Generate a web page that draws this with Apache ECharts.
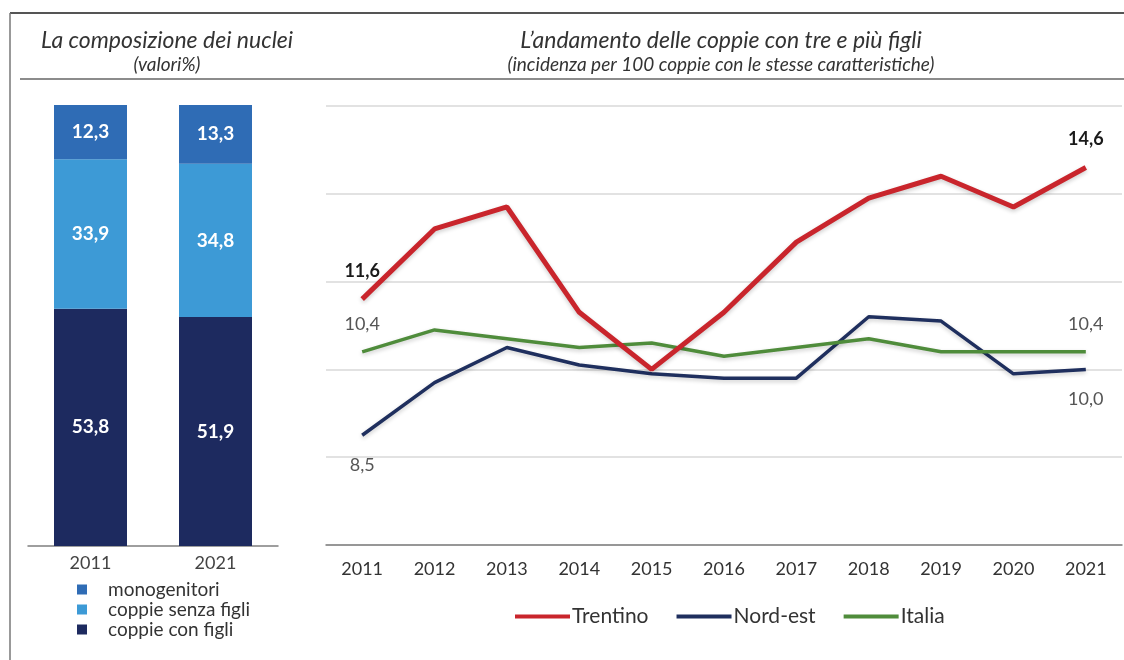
<!DOCTYPE html>
<html>
<head>
<meta charset="utf-8">
<script src="https://cdn.jsdelivr.net/npm/echarts@6/dist/echarts.min.js"></script>
<style>
  html, body { margin: 0; padding: 0; background: #fff; }
  #chart { width: 1124px; height: 660px; }
</style>
</head>
<body>
<div id="chart"></div>
<script>
// pannello sinistro: composizione dei nuclei (valori %)
var barYears = ['2011', '2021'];
var monogenitori = [12.3, 13.3];
var coppieSenzaFigli = [33.9, 34.8];
var coppieConFigli = [53.8, 51.9];

// pannello destro: coppie con tre e più figli (per 100 coppie)
var years = ['2011', '2012', '2013', '2014', '2015', '2016', '2017', '2018', '2019', '2020', '2021'];
var trentino = [11.6, 13.2, 13.7, 11.3, 10.0, 11.3, 12.9, 13.9, 14.4, 13.7, 14.6];
var nordEst = [8.5, 9.7, 10.5, 10.1, 9.9, 9.8, 9.8, 11.2, 11.1, 9.9, 10.0];
var italia = [10.4, 10.9, 10.7, 10.5, 10.6, 10.3, 10.5, 10.7, 10.4, 10.4, 10.4];

var FONT = 'Lato';
var comma = function (v) { return v.toFixed(1).replace('.', ','); };

// etichette solo sul primo e ultimo punto
function endLabels(values, pos, bold) {
    return values.map(function (v, i) {
        if (i !== 0 && i !== values.length - 1) return v;
        return {
            value: v,
            label: {
                show: true,
                position: pos,
                distance: pos === 'top' ? 19 : 21,
                formatter: function (p) { return comma(p.value); },
                fontFamily: FONT,
                fontSize: 18,
                fontWeight: bold ? 'bold' : 'normal',
                color: bold ? '#1a1a1a' : '#555'
            }
        };
    });
}

function barLabel() {
    return {
        show: true,
        position: 'inside',
        color: '#fff',
        fontFamily: FONT,
        fontWeight: 'bold',
        fontSize: 19,
        formatter: function (p) { return comma(p.value); }
    };
}

function titleText(x, y, text, size) {
    return {
        type: 'text', x: x, y: y,
        style: {
            text: text, fontFamily: FONT, fontStyle: 'italic', fontSize: size,
            fill: '#333', align: 'center', verticalAlign: 'middle'
        }
    };
}

var chart = echarts.init(document.getElementById('chart'));
chart.setOption({
    animation: false,
    graphic: [
        // cornice
        { type: 'line', shape: { x1: 10, y1: 13, x2: 1124, y2: 13 }, style: { stroke: '#555', lineWidth: 2 } },
        { type: 'line', shape: { x1: 10, y1: 13, x2: 10, y2: 660 }, style: { stroke: '#777', lineWidth: 1.5 } },
        { type: 'line', shape: { x1: 20, y1: 79, x2: 1124, y2: 79 }, style: { stroke: '#666', lineWidth: 1.5 } },
        // titoli
        titleText(167, 41, 'La composizione dei nuclei', 23),
        titleText(167, 65, '(valori%)', 19),
        titleText(721, 41, 'L\u2019andamento delle coppie con tre e più figli', 23),
        titleText(721, 65, '(incidenza per 100 coppie con le stesse caratteristiche)', 19)
    ],
    legend: [
        {
            data: ['monogenitori', 'coppie senza figli', 'coppie con figli'],
            orient: 'vertical',
            left: 72,
            top: 575,
            icon: 'rect',
            itemWidth: 10,
            itemHeight: 10,
            itemGap: 1,
            textStyle: { fontFamily: FONT, fontSize: 19, color: '#333', padding: [0, 0, 0, 16] }
        },
        {
            data: ['Trentino', 'Nord-est', 'Italia'],
            left: 510,
            top: 601,
            icon: 'rect',
            itemWidth: 55,
            itemHeight: 4,
            itemGap: 28,
            textStyle: { fontFamily: FONT, fontSize: 21, color: '#333', padding: [0, 0, 0, -3] }
        }
    ],
    grid: [
        { left: 28, top: 105, width: 250, height: 441 },
        { left: 326, top: 106, width: 796, height: 439 }
    ],
    xAxis: [
        {
            gridIndex: 0,
            type: 'category',
            data: barYears,
            axisLine: { lineStyle: { color: '#7f7f7f', width: 1.5 } },
            axisTick: { lineStyle: { color: '#7f7f7f' }, length: 5 },
            axisLabel: { fontFamily: FONT, fontSize: 18, color: '#444', margin: 8 }
        },
        {
            gridIndex: 1,
            type: 'category',
            data: years,
            axisLine: { lineStyle: { color: '#7f7f7f', width: 1.5 } },
            axisTick: { lineStyle: { color: '#7f7f7f' }, length: 5 },
            axisLabel: { fontFamily: FONT, fontSize: 18, color: '#333', margin: 15 }
        }
    ],
    yAxis: [
        {
            gridIndex: 0,
            type: 'value',
            min: 0,
            max: 100,
            show: false
        },
        {
            gridIndex: 1,
            type: 'value',
            min: 6,
            max: 16,
            interval: 2,
            axisLine: { show: false },
            axisTick: { show: false },
            axisLabel: { show: false },
            splitLine: { lineStyle: { color: '#d9d9d9', width: 1.5 } }
        }
    ],
    series: [
        {
            name: 'coppie con figli', type: 'bar', stack: 'nuclei',
            xAxisIndex: 0, yAxisIndex: 0, barWidth: 73,
            itemStyle: { color: '#1d2a5f' },
            label: barLabel(),
            data: coppieConFigli
        },
        {
            name: 'coppie senza figli', type: 'bar', stack: 'nuclei',
            xAxisIndex: 0, yAxisIndex: 0, barWidth: 73,
            itemStyle: { color: '#3d9ad6' },
            label: barLabel(),
            data: coppieSenzaFigli
        },
        {
            name: 'monogenitori', type: 'bar', stack: 'nuclei',
            xAxisIndex: 0, yAxisIndex: 0, barWidth: 73,
            itemStyle: { color: '#2f6cb5' },
            label: barLabel(),
            data: monogenitori
        },
        {
            name: 'Nord-est', type: 'line', xAxisIndex: 1, yAxisIndex: 1,
            symbol: 'circle', symbolSize: 0.1, z: 3,
            lineStyle: { color: '#1f2f5e', width: 3.5, shadowColor: 'rgba(0,0,0,0.2)', shadowBlur: 4, shadowOffsetY: 2 },
            itemStyle: { color: '#1f2f5e' },
            data: endLabels(nordEst, 'bottom', false)
        },
        {
            name: 'Italia', type: 'line', xAxisIndex: 1, yAxisIndex: 1,
            symbol: 'circle', symbolSize: 0.1, z: 4,
            lineStyle: { color: '#4f8c3b', width: 3.5, shadowColor: 'rgba(0,0,0,0.2)', shadowBlur: 4, shadowOffsetY: 2 },
            itemStyle: { color: '#4f8c3b' },
            data: endLabels(italia, 'top', false)
        },
        {
            name: 'Trentino', type: 'line', xAxisIndex: 1, yAxisIndex: 1,
            symbol: 'circle', symbolSize: 0.1, z: 5,
            lineStyle: { color: '#c9252c', width: 5, shadowColor: 'rgba(0,0,0,0.2)', shadowBlur: 4, shadowOffsetY: 2 },
            itemStyle: { color: '#c9252c' },
            data: endLabels(trentino, 'top', true)
        }
    ]
});
</script>
</body>
</html>
